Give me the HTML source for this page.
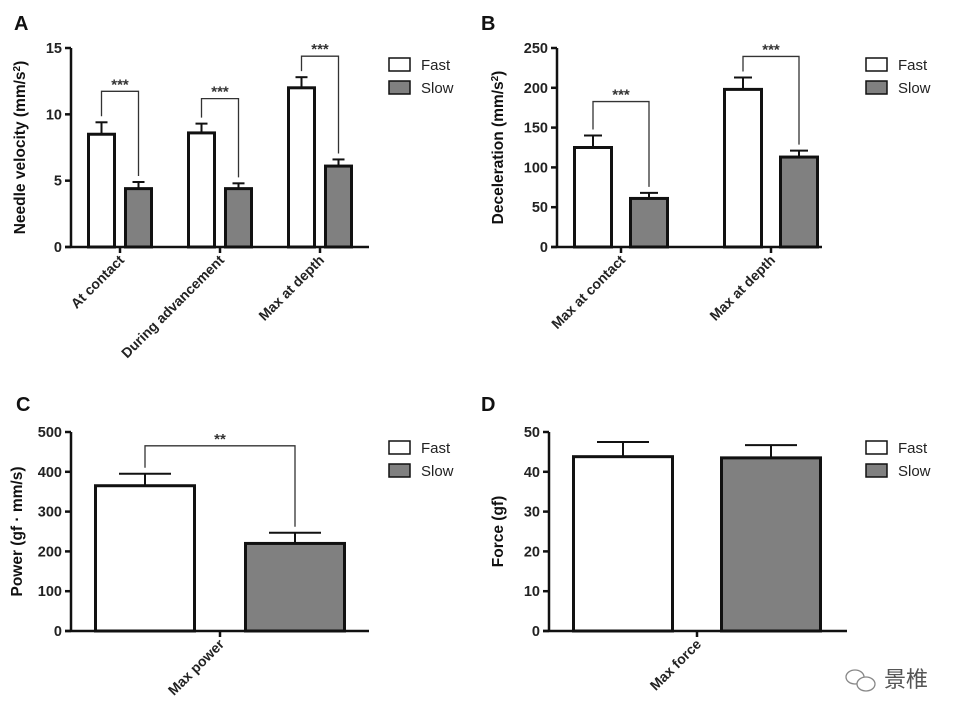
<!DOCTYPE html>
<html><head><meta charset="utf-8"><style>
body{margin:0;background:#fff;}
svg text{font-family:"Liberation Sans",Arial,sans-serif;}
</style></head><body>
<svg id="fig" width="958" height="719" viewBox="0 0 958 719" xmlns="http://www.w3.org/2000/svg"></svg>
<script>
// Panel A data
const catsA=["At contact","During advancement","Max at depth"];
const fastA=[8.5,8.6,12.0];
const fastErrA=[0.9,0.7,0.8];
const slowA=[4.4,4.4,6.1];
const slowErrA=[0.5,0.4,0.5];
const ticksA=[0,5,10,15];
// Panel B data
const catsB=["Max at contact","Max at depth"];
const fastB=[125,198];
const fastErrB=[15,15];
const slowB=[61,113];
const slowErrB=[7,8];
const ticksB=[0,50,100,150,200,250];
// Panel C data
const catsC=["Max power"];
const fastC=[365];
const fastErrC=[30];
const slowC=[220];
const slowErrC=[27];
const ticksC=[0,100,200,300,400,500];
// Panel D data
const catsD=["Max force"];
const fastD=[43.8];
const fastErrD=[3.7];
const slowD=[43.5];
const slowErrD=[3.2];
const ticksD=[0,10,20,30,40,50];
const sigA=["***","***","***"];
const sigB=["***","***"];
const sigC=["**"];

const NS="http://www.w3.org/2000/svg";
const svg=document.getElementById('fig');
function mk(tag,attrs,parent,text){const e=document.createElementNS(NS,tag);for(const k in attrs)e.setAttribute(k,attrs[k]);if(text!==undefined)e.textContent=text;(parent||svg).appendChild(e);return e;}

function panel(o){
  const g=mk('g',{});
  
  
  const max=o.ticks[o.ticks.length-1];
  const y=v=>o.y0-(v/max)*(o.y0-o.yTop);
  const lbl=mk('text',{x:o.lx,y:o.ly,'font-size':20,'font-weight':'bold',fill:'#111'},g,o.letter);
  
  
  const ax=mk('line',{x1:o.ax,y1:o.yTop,x2:o.ax,y2:o.y0+1,stroke:'#111','stroke-width':2.5},g);
  
  
  const xa=mk('line',{x1:o.ax-6,y1:o.y0,x2:o.xEnd,y2:o.y0,stroke:'#111','stroke-width':2.5},g);
  
  
  o.ticks.forEach(t=>{
    mk('line',{x1:o.ax-6,y1:y(t),x2:o.ax,y2:y(t),stroke:'#111','stroke-width':2.5},g);
    const tl=mk('text',{x:o.ax-9,y:y(t)+5,'font-size':14.5,'font-weight':'bold','text-anchor':'end',fill:'#222'},g,t);
    
    
  });
  const yt=mk('text',{x:0,y:0,'font-size':15.5,'font-weight':'bold','text-anchor':'middle',fill:'#111',transform:`translate(${o.tx},${(o.y0+o.yTop)/2}) rotate(-90)`},g);
  
  
  yt.innerHTML=o.title;
  o.cats.forEach((c,i)=>{
    const cx=o.c0+i*o.step;
    mk('line',{x1:cx,y1:o.y0,x2:cx,y2:o.y0+6,stroke:'#111','stroke-width':2.5},g);
    const cl=mk('text',{x:0,y:0,'font-size':14,'font-weight':'bold','text-anchor':'end',fill:'#222',transform:`translate(${cx+5},${o.y0+14}) rotate(-45)`},g,c);
    
    
    [[o.fast[i],o.fErr[i],-1,'#fff','fast'],[o.slow[i],o.sErr[i],1,'#808080','slow']].forEach(([v,e,s,fill,nm])=>{
      const bx=s<0?cx-o.gap/2-o.bw:cx+o.gap/2;
      const bc=bx+o.bw/2;
      const eb=mk('line',{x1:bc,y1:y(v),x2:bc,y2:y(v+e),stroke:'#111','stroke-width':2},g);
      
      
      mk('line',{x1:bc-o.cap,y1:y(v+e),x2:bc+o.cap,y2:y(v+e),stroke:'#111','stroke-width':2},g);
      const r=mk('rect',{x:bx,y:y(v),width:o.bw,height:o.y0-y(v),fill:fill,stroke:'#111','stroke-width':3},g);
      
      
    });
    if(o.sig&&o.sig[i]){
      const fx=cx-o.gap/2-o.bw/2, sx=cx+o.gap/2+o.bw/2;
      const top=Math.min(y(o.fast[i]+o.fErr[i]),y(o.slow[i]+o.sErr[i]))-o.bh[i];
      const br=mk('path',{d:`M${fx},${y(o.fast[i]+o.fErr[i])-6}V${top}H${sx}V${y(o.slow[i]+o.sErr[i])-6}`,fill:'none',stroke:'#333','stroke-width':1.3},g);
      
      
      const st=mk('text',{x:(fx+sx)/2,y:top-2,'font-size':15,'font-weight':'bold','text-anchor':'middle',fill:'#333'},g,o.sig[i]);
      
      
    }
  });
  [['Fast','#fff',0],['Slow','#808080',23]].forEach(([n,f,dy])=>{
    const le=mk('g',{},g);
    
    
    mk('rect',{x:o.lgx,y:o.lgy+dy,width:21,height:13,fill:f,stroke:'#111','stroke-width':1.5},le);
    mk('text',{x:o.lgx+32,y:o.lgy+dy+12,'font-size':15,fill:'#222'},le,n);
  });
}
panel({letter:'A',lx:14,ly:30,ax:71,yTop:48,y0:247,xEnd:369,ticks:ticksA,cats:catsA,fast:fastA,fErr:fastErrA,slow:slowA,sErr:slowErrA,c0:120,step:100,bw:26,gap:11,cap:6,tx:25,title:'Needle velocity (mm/s<tspan baseline-shift="super" font-size="10">2</tspan>)',sig:sigA,bh:[31,25,21],lgx:389,lgy:58});
panel({letter:'B',lx:481,ly:30,ax:557,yTop:48,y0:247,xEnd:822,ticks:ticksB,cats:catsB,fast:fastB,fErr:fastErrB,slow:slowB,sErr:slowErrB,c0:621,step:150,bw:37,gap:19,cap:9,tx:503,title:'Deceleration (mm/s<tspan baseline-shift="super" font-size="10">2</tspan>)',sig:sigB,bh:[34,21],lgx:866,lgy:58});
panel({letter:'C',lx:16,ly:411,ax:71,yTop:432,y0:631,xEnd:369,ticks:ticksC,cats:catsC,fast:fastC,fErr:fastErrC,slow:slowC,sErr:slowErrC,c0:220,step:0,bw:99,gap:51,cap:26,tx:22,title:'Power (gf · mm/s)',sig:sigC,bh:[28],lgx:389,lgy:441});
panel({letter:'D',lx:481,ly:411,ax:549,yTop:432,y0:631,xEnd:847,ticks:ticksD,cats:catsD,fast:fastD,fErr:fastErrD,slow:slowD,sErr:slowErrD,c0:697,step:0,bw:99,gap:49,cap:26,tx:503,title:'Force (gf)',sig:null,bh:[0],lgx:866,lgy:441});
const wm=mk('text',{x:884,y:687,'font-size':22,fill:'#555','font-family':'"Liberation Sans","Noto Sans CJK SC",sans-serif'},svg,'景椎');


const wi=mk('g',{fill:'none',stroke:'#888','stroke-width':1.3});


mk('ellipse',{cx:855,cy:677,rx:9,ry:7},wi);
mk('ellipse',{cx:866,cy:684,rx:9,ry:7,fill:'#fff'},wi);
</script>
</body></html>
